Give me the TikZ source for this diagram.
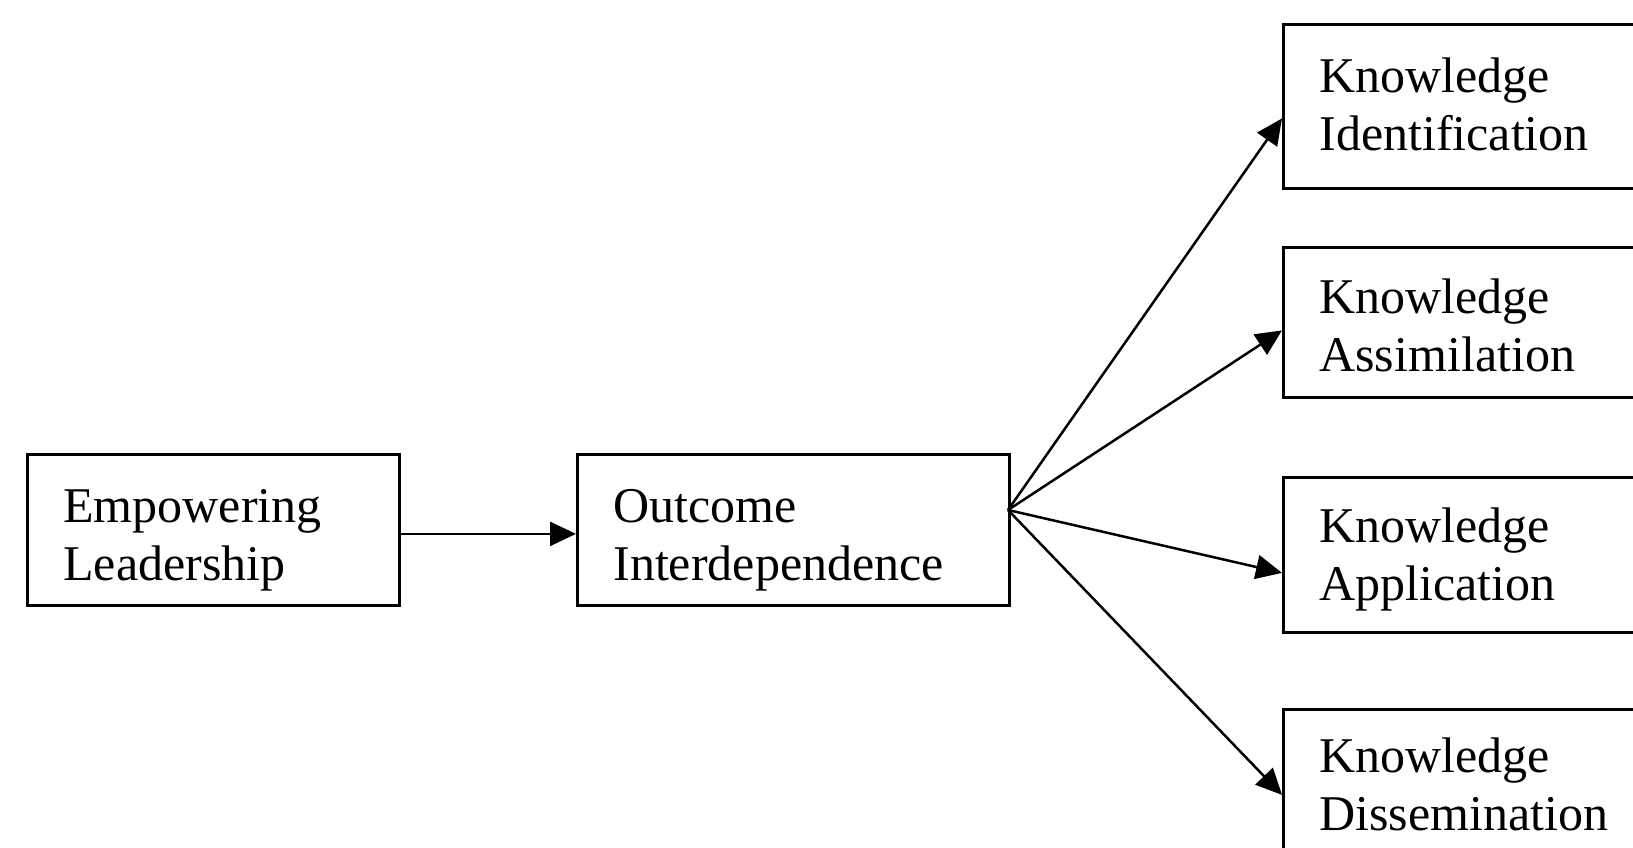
\documentclass[tikz,border=0pt]{standalone}
\usepackage{fontspec}
\setmainfont{Liberation Serif}
\usetikzlibrary{arrows.meta}
\begin{document}
\begin{tikzpicture}[x=1pt,y=-1pt,
  box/.style={draw=black,line width=2.8pt,align=left,inner xsep=36pt,inner ysep=0pt,
    font=\fontsize{50}{58}\selectfont,anchor=north west},
  arr/.style={line width=2.5pt,-{Triangle[length=26pt,width=24pt]}}]
\useasboundingbox (0,0) rectangle (1633,848);
\fill[white] (0,0) rectangle (1633,848);
\begin{scope}
\clip (0,0) rectangle (1633,848);
\node[box,text width=300pt,minimum height=151pt,text height=54pt] (emp) at (26,453) {Empowering\\Leadership};
\node[box,text width=360pt,minimum height=151pt,text height=54pt] (out) at (576,453) {Outcome\\Interdependence};
\node[box,text width=400pt,minimum height=164pt,text height=30pt] (k1) at (1282,23) {Knowledge\\Identification};
\node[box,text width=400pt,minimum height=150pt,text height=40pt] (k2) at (1282,246) {Knowledge\\Assimilation};
\node[box,text width=400pt,minimum height=155pt,text height=43pt] (k3) at (1282,476) {Knowledge\\Application};
\node[box,text width=400pt,minimum height=155pt,text height=30pt] (k4) at (1282,708) {Knowledge\\Dissemination};
\coordinate (fan) at (1008,510);
\draw[arr] ([yshift=-4pt]emp.east) -- ([yshift=-4pt]out.west);
\draw[arr] (fan) -- ([yshift=-12pt]k1.west);
\draw[arr] (fan) -- ([yshift=-8pt]k2.west);
\draw[arr] (fan) -- ([yshift=-18pt]k3.west);
\draw[arr] (fan) -- ([yshift=-8pt]k4.west);
\end{scope}
\end{tikzpicture}
\end{document}
